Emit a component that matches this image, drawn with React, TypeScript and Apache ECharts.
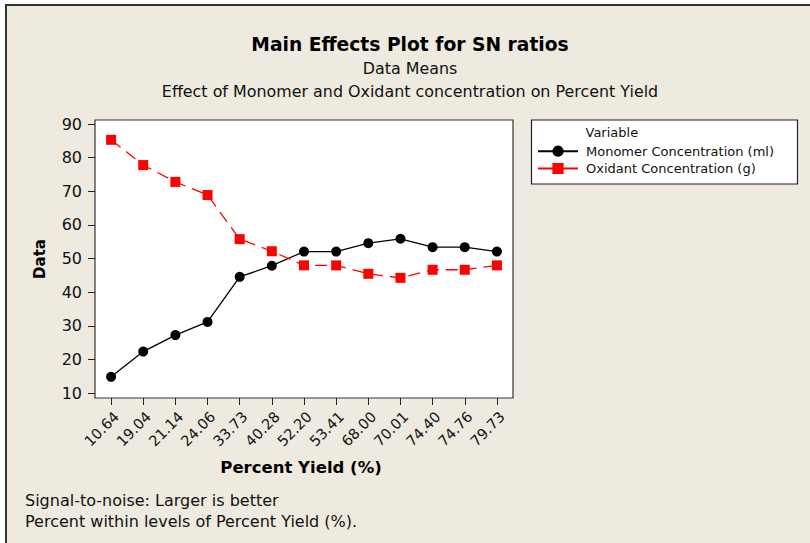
import React, { useEffect, useRef } from "react";
import * as echarts from "echarts";

const categories = ["10.64", "19.04", "21.14", "24.06", "33.73", "40.28", "52.20", "53.41", "68.00", "70.01", "74.40", "74.76", "79.73"];
const monomer = [14.9, 22.4, 27.3, 31.2, 44.6, 47.9, 52.1, 52.1, 54.6, 55.9, 53.4, 53.4, 52.1];
const oxidant = [85.3, 77.8, 72.8, 68.9, 55.8, 52.2, 48.0, 48.0, 45.5, 44.3, 46.7, 46.7, 48.0];
const seriesNames = ["Monomer Concentration (ml)", "Oxidant Concentration (g)"];
const yMin = 10;
const yMax = 90;
const yStep = 10;

const FONT = "DejaVu Sans";
const BG = "#EEEAE0";

export default function App() {
  const ref = useRef<HTMLDivElement>(null);
  useEffect(() => {
    if (!ref.current) return;
    const chart = echarts.init(ref.current, undefined, { renderer: "svg" });
    chart.setOption({
      animation: false,
      backgroundColor: "#ffffff",
      textStyle: { fontFamily: FONT },
      grid: { left: 95, right: 297, top: 124, bottom: 149.7, containLabel: false },
      xAxis: {
        type: "category",
        data: categories,
        boundaryGap: true,
        offset: 4.7,
        axisLine: { show: false },
        axisTick: { show: true, alignWithLabel: true, length: 7, lineStyle: { color: "#222", width: 1 } },
        axisLabel: { rotate: 45, fontSize: 14.5, color: "#111", margin: 11, verticalAlign: "top", fontFamily: FONT },
        splitLine: { show: false },
      },
      yAxis: {
        type: "value",
        min: yMin,
        max: yMax,
        interval: yStep,
        axisLine: { show: false },
        axisTick: { show: true, length: 7, lineStyle: { color: "#222", width: 1 } },
        axisLabel: { fontSize: 16, color: "#111", margin: 13, fontFamily: FONT },
        splitLine: { show: false },
      },
      legend: {
        orient: "vertical",
        left: 537,
        top: 144.7,
        padding: 0,
        itemWidth: 40,
        itemHeight: 14,
        itemGap: 4.3,
        textStyle: { fontSize: 13, color: "#111", fontFamily: FONT, padding: [0, 0, 0, 3] },
        data: [
          { name: seriesNames[0], lineStyle: { type: "solid" } },
          { name: seriesNames[1], lineStyle: { type: "solid" } },
        ],
      },
      graphic: [
        { type: "rect", z: -10, silent: true, shape: { x: 6, y: 5, width: 810, height: 543 }, style: { fill: BG } },
        { type: "line", z: 1, silent: true, shape: { x1: 5, y1: 5, x2: 810, y2: 5 }, style: { stroke: "#333", lineWidth: 2 } },
        { type: "line", z: 1, silent: true, shape: { x1: 6, y1: 5, x2: 6, y2: 543 }, style: { stroke: "#333", lineWidth: 2 } },
        { type: "rect", z: -5, silent: true, shape: { x: 95, y: 120, width: 418, height: 278 }, style: { fill: "#ffffff", stroke: "#333", lineWidth: 1.2 } },
        { type: "rect", z: -5, silent: true, shape: { x: 531.5, y: 120, width: 266, height: 64 }, style: { fill: "#ffffff", stroke: "#222", lineWidth: 1.2 } },
        { type: "text", silent: true, x: 585.5, y: 132, style: { text: "Variable", fontSize: 13, fontFamily: FONT, fill: "#111", textVerticalAlign: "middle" } },
        { type: "text", silent: true, x: 410, y: 44, style: { text: "Main Effects Plot for SN ratios", fontSize: 18.7, fontWeight: "bold", fontFamily: FONT, fill: "#000", textAlign: "center", textVerticalAlign: "middle" } },
        { type: "text", silent: true, x: 410, y: 68, style: { text: "Data Means", fontSize: 15.9, fontFamily: FONT, fill: "#111", textAlign: "center", textVerticalAlign: "middle" } },
        { type: "text", silent: true, x: 410, y: 91.5, style: { text: "Effect of Monomer and Oxidant concentration on Percent Yield", fontSize: 15.9, fontFamily: FONT, fill: "#111", textAlign: "center", textVerticalAlign: "middle" } },
        { type: "text", silent: true, x: 301, y: 467, style: { text: "Percent Yield (%)", fontSize: 16.5, fontWeight: "bold", fontFamily: FONT, fill: "#000", textAlign: "center", textVerticalAlign: "middle" } },
        { type: "text", silent: true, x: 40, y: 259, rotation: Math.PI / 2, style: { text: "Data", fontSize: 15, fontWeight: "bold", fontFamily: FONT, fill: "#000", textAlign: "center", textVerticalAlign: "middle" } },
        { type: "text", silent: true, x: 25, y: 500, style: { text: "Signal-to-noise: Larger is better", fontSize: 16, fontFamily: FONT, fill: "#111", textVerticalAlign: "middle" } },
        { type: "text", silent: true, x: 25, y: 521.5, style: { text: "Percent within levels of Percent Yield (%).", fontSize: 16, fontFamily: FONT, fill: "#111", textVerticalAlign: "middle" } },
      ],
      series: [
        {
          name: seriesNames[0],
          type: "line",
          data: monomer,
          symbol: "circle",
          symbolSize: 10,
          itemStyle: { color: "#000000" },
          lineStyle: { color: "#000000", width: 1.3, type: "solid" },
          z: 3,
        },
        {
          name: seriesNames[1],
          type: "line",
          data: oxidant,
          symbol: "rect",
          symbolSize: 10,
          itemStyle: { color: "#ff0000" },
          lineStyle: { color: "#ff0000", width: 1.3, type: [12, 7] },
          z: 3,
        },
      ],
    });
    return () => chart.dispose();
  }, []);
  return <div ref={ref} style={{ position: "fixed", left: 0, top: 0, width: 810, height: 543 }} />;
}
